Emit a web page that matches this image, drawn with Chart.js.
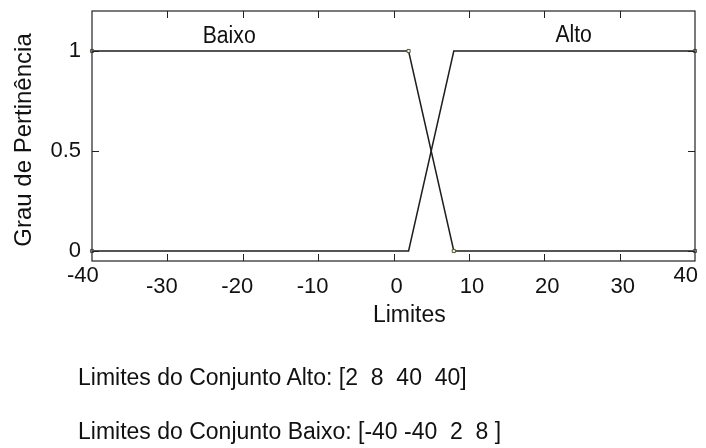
<!DOCTYPE html>
<html><head><meta charset="utf-8">
<script src="https://cdn.jsdelivr.net/npm/chart.js@4/dist/chart.umd.min.js"></script>
<style>
html,body{margin:0;padding:0;background:#fff;}
#wrap{position:relative;width:706px;height:448px;overflow:hidden;}
#c{position:absolute;left:0;top:0;}
.info{position:absolute;left:78px;font-family:"Liberation Sans",Arial,sans-serif;font-size:23px;color:#111;white-space:pre;line-height:26px;transform:scaleY(1.08);transform-origin:0 50%;}
</style>
</head><body>
<div id="wrap">
<canvas id="c" width="706" height="448"></canvas>
<div class="info" id="info0" style="top:363px;"></div>
<div class="info" id="info1" style="top:417px;"></div>
</div>
<script>
// ---- data ----
const xTickValues = [-40, -30, -20, -10, 0, 10, 20, 30, 40];
const xTickLabels = ['-40   ', '-30\u2002', '-20\u2002', '-10\u2002', ' 0', ' 10', ' 20', ' 30', '40   '];
const yTickValues = [0, 0.5, 1];
const yTickLabels = ['0', '0.5', '1'];
const baixoX = [-40, 2, 8, 40];
const baixoY = [1, 1, 0, 0];
const altoX = [-40, 2, 8, 40];
const altoY = [0, 0, 1, 1];
const mfNames = ['Baixo', 'Alto'];
const mfLabelX = [-21.8, 23.9];
const mfLabelY = [1.072, 1.075];
const xTitle = 'Limites';
const yTitle = 'Grau de Pertinência';
const infoLines = ['Limites do Conjunto Alto: [2  8  40  40]', 'Limites do Conjunto Baixo: [-40 -40  2  8 ]'];

document.getElementById('info0').textContent = infoLines[0];
document.getElementById('info1').textContent = infoLines[1];

const FONT = '"Liberation Sans", Arial, sans-serif';
const INK = '#111';
const LINE = '#1e1e1e';

const toPts = (xs, ys) => xs.map((x, i) => ({x: x, y: ys[i]}));

const framePlugin = {
  id: 'frame',
  afterDatasetsDraw(chart) {
    const {ctx, chartArea: a, scales: {x, y}} = chart;
    ctx.save();
    ctx.strokeStyle = '#222';
    ctx.lineWidth = 1.2;
    ctx.strokeRect(a.left, a.top, a.right - a.left, a.bottom - a.top);
    ctx.beginPath();
    const tl = 7;
    xTickValues.forEach(v => {
      const px = Math.round(x.getPixelForValue(v)) + 0.5;
      if (px <= a.left + 1 || px >= a.right - 1) return;
      ctx.moveTo(px, a.bottom); ctx.lineTo(px, a.bottom - tl);
      ctx.moveTo(px, a.top); ctx.lineTo(px, a.top + tl);
    });
    yTickValues.forEach(v => {
      const py = Math.round(y.getPixelForValue(v)) + 0.5;
      ctx.moveTo(a.left, py); ctx.lineTo(a.left + tl, py);
      ctx.moveTo(a.right, py); ctx.lineTo(a.right - tl, py);
    });
    ctx.lineWidth = 1;
    ctx.stroke();
    ctx.restore();
  },
  afterDraw(chart) {
    const {ctx, chartArea: a, scales: {x, y}} = chart;
    ctx.save();
    ctx.fillStyle = INK;
    ctx.textAlign = 'center';
    ctx.textBaseline = 'middle';
    ctx.font = '21.2px ' + FONT;
    mfNames.forEach((n, i) => {
      const px = x.getPixelForValue(mfLabelX[i]);
      const py = y.getPixelForValue(mfLabelY[i]);
      ctx.save();
      ctx.translate(px, py);
      ctx.scale(1, 1.1);
      ctx.fillText(n, 0, 0);
      ctx.restore();
    });
    ctx.font = '23px ' + FONT;
    ctx.save();
    ctx.translate(x.getPixelForValue(2.1), 315);
    ctx.scale(1, 1.08);
    ctx.fillText(xTitle, 0, 0);
    ctx.restore();
    ctx.font = '24px ' + FONT;
    ctx.translate(24, 140);
    ctx.rotate(-Math.PI / 2);
    ctx.fillText(yTitle, 0, 0);
    ctx.restore();
  }
};

new Chart(document.getElementById('c'), {
  type: 'line',
  data: {
    datasets: [
      {
        label: mfNames[0],
        data: toPts(baixoX, baixoY),
        borderColor: LINE,
        borderWidth: 1.5,
        pointStyle: 'rect',
        pointRadius: [2.2, 2.2, 2.2, 2.2],
        pointBackgroundColor: '#ffff99',
        pointBorderColor: '#555',
        pointBorderWidth: 1,
        tension: 0,
        clip: 4
      },
      {
        label: mfNames[1],
        data: toPts(altoX, altoY),
        borderColor: LINE,
        borderWidth: 1.5,
        pointStyle: 'rect',
        pointRadius: [2.2, 0, 0, 2.2],
        pointBackgroundColor: '#ffff99',
        pointBorderColor: '#555',
        pointBorderWidth: 1,
        tension: 0,
        clip: 4
      }
    ]
  },
  options: {
    responsive: false,
    animation: false,
    events: [],
    layout: {padding: {left: 0, right: 11, top: 11, bottom: 0}},
    plugins: {legend: {display: false}, tooltip: {enabled: false}},
    scales: {
      x: {
        type: 'linear',
        min: -40, max: 40,
        afterBuildTicks: s => { s.ticks = xTickValues.map(v => ({value: v})); },
        afterFit: s => { s.height = 448 - 261; s.paddingLeft = 0; s.paddingRight = 0; },
        grid: {display: false, drawTicks: false},
        border: {display: false},
        ticks: {
          color: INK,
          padding: 0,
          maxRotation: 0,
          autoSkip: false,
          callback: (v, i) => xTickLabels[i],
          font: c => ({family: FONT, size: 22,
            lineHeight: (c.tick && Math.abs(c.tick.value) === 40) ? 1.36 : 2.33})
        }
      },
      y: {
        type: 'linear',
        min: -0.05, max: 1.2,
        afterBuildTicks: s => { s.ticks = yTickValues.map(v => ({value: v})); },
        afterFit: s => { s.width = 92; s.paddingTop = 0; s.paddingBottom = 0; },
        grid: {display: false, drawTicks: false},
        border: {display: false},
        ticks: {color: INK, padding: 11, callback: (v, i) => yTickLabels[i], font: {family: FONT, size: 22}}
      }
    }
  },
  plugins: [framePlugin]
});
</script>
</body></html>
